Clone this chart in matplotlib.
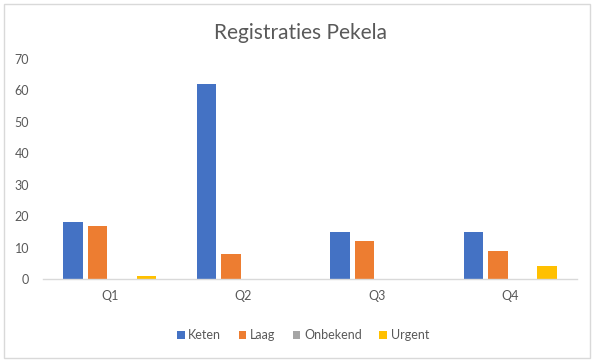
import matplotlib

matplotlib.use("Agg")
import matplotlib.pyplot as plt
import numpy as np
from matplotlib.patches import Rectangle

quarters = ["Q1", "Q2", "Q3", "Q4"]
series = ["Keten", "Laag", "Onbekend", "Urgent"]
keten = [18, 62, 15, 15]
laag = [17, 8, 12, 9]
onbekend = [0, 0, 0, 0]
urgent = [1, 0, 0, 4]

colors = ["#4472C4", "#ED7D31", "#A5A5A5", "#FFC000"]
text_color = "#595959"

plt.rcParams["font.family"] = ["Lato", "DejaVu Sans"]

fig = plt.figure(figsize=(5.92, 3.6), dpi=100)
ax = fig.add_axes([43 / 592, 1 - 279 / 360, 534 / 592, 220 / 360])

x = np.arange(len(quarters))
step = 0.183
width = 0.145
for i, (name, vals) in enumerate(zip(series, [keten, laag, onbekend, urgent])):
    ax.bar(x + (i - 1.5) * step, vals, width, color=colors[i], label=name, zorder=2)

ax.set_xlim(-0.5, 3.5)
ax.set_ylim(0, 70)
ax.set_yticks(range(0, 71, 10))
ax.set_xticks(x)
ax.set_xticklabels(quarters)
ax.tick_params(axis="both", length=0, colors=text_color, labelsize=9)
ax.tick_params(axis="y", pad=10)
ax.tick_params(axis="x", pad=8)
for side in ("left", "right", "top"):
    ax.spines[side].set_visible(False)
ax.spines["bottom"].set_color("#d9d9d9")
ax.spines["bottom"].set_linewidth(1)

fig.text(0.507, 1 - 33 / 360, "Registraties Pekela", ha="center", va="center",
         fontsize=15, color=text_color)

fig.legend(loc="center", bbox_to_anchor=(303 / 592, 1 - 335 / 360), ncol=4, frameon=False,
           fontsize=9, handlelength=0.6, handleheight=0.6, handletextpad=0.3,
           columnspacing=1.4, labelcolor=text_color)

# chart area border
fig.patches.append(Rectangle((4 / 592, 2 / 360), 586 / 592, 354 / 360, transform=fig.transFigure,
                             fill=False, edgecolor="#d9d9d9", linewidth=1))

fig.savefig("out.png", dpi=100)
plt.close(fig)
